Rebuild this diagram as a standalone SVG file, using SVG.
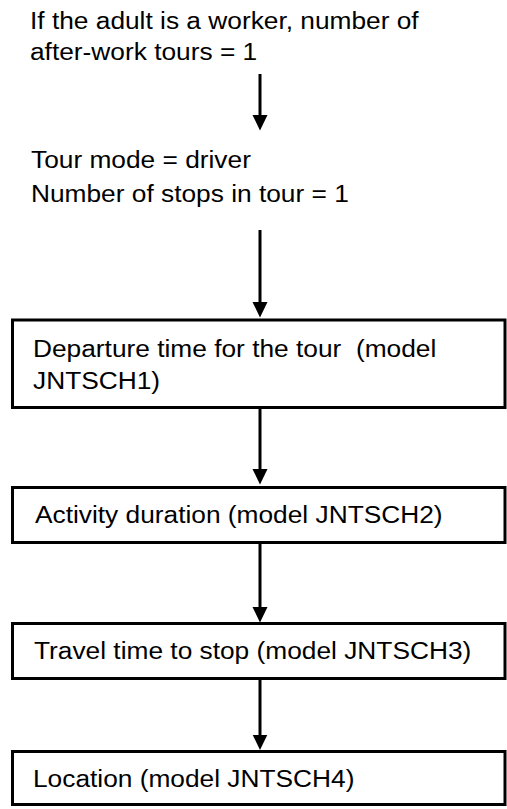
<svg xmlns="http://www.w3.org/2000/svg" width="507" height="809" viewBox="0 0 507 809">
<style>
  .t { font-family: "Liberation Sans", Arial, sans-serif; font-size: 26px; fill: #000; white-space: pre; }
  .box { fill: #fff; stroke: #000; stroke-width: 3; }
  .conn { stroke: #000; stroke-width: 3; fill: none; marker-end: url(#arrow); }
</style>
<defs>
  <marker id="arrow" markerUnits="userSpaceOnUse" markerWidth="16" markerHeight="16" refX="10" refY="7.5" orient="auto" viewBox="0 0 16 16">
    <path d="M0,0 L15.5,7.5 L0,15 z" fill="#000"/>
  </marker>
</defs>
<rect width="507" height="809" fill="#fff"/>

<g id="intro">
  <text class="t" transform="translate(30,29) scale(1.012,0.9)">If the adult is a worker, number of</text>
  <text class="t" transform="translate(30,60) scale(1.012,0.9)">after-work tours = 1</text>
</g>

<g id="mode">
  <text class="t" transform="translate(31,168) scale(1.012,0.9)">Tour mode = driver</text>
  <text class="t" transform="translate(31,201.5) scale(1.012,0.9)">Number of stops in tour = 1</text>
</g>

<g id="connectors">
  <line class="conn" x1="260" y1="74" x2="260" y2="125"/>
  <line class="conn" x1="260" y1="230" x2="260" y2="312"/>
  <line class="conn" x1="260" y1="409" x2="260" y2="479"/>
  <line class="conn" x1="260" y1="544" x2="260" y2="617"/>
  <line class="conn" x1="260" y1="680" x2="260" y2="744.5"/>
</g>

<g id="node1">
  <rect class="box" x="12.5" y="320" width="492.5" height="87.5"/>
  <text class="t" xml:space="preserve" transform="translate(33,357) scale(1.012,0.9)">Departure time for the tour  (model</text>
  <text class="t" transform="translate(33,389) scale(1.012,0.9)">JNTSCH1)</text>
</g>

<g id="node2">
  <rect class="box" x="12.5" y="487.5" width="492.5" height="55"/>
  <text class="t" transform="translate(35,523.3) scale(1.012,0.9)">Activity duration (model JNTSCH2)</text>
</g>

<g id="node3">
  <rect class="box" x="12.5" y="623.5" width="492.5" height="55"/>
  <text class="t" transform="translate(34,659.3) scale(1.012,0.9)">Travel time to stop (model JNTSCH3)</text>
</g>

<g id="node4">
  <rect class="box" x="12.5" y="751.5" width="492.5" height="53"/>
  <text class="t" transform="translate(33,787) scale(1.012,0.9)">Location (model JNTSCH4)</text>
</g>
</svg>
